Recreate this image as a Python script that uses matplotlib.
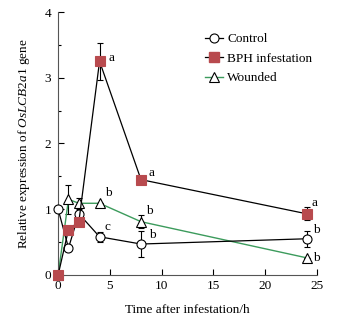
import numpy as np
import matplotlib
matplotlib.use('Agg')
import matplotlib.pyplot as plt
from matplotlib.ticker import MultipleLocator
from matplotlib.lines import Line2D

plt.rcParams['font.family'] = ['Liberation Serif', 'DejaVu Serif']
plt.rcParams['mathtext.fontset'] = 'custom'
plt.rcParams['mathtext.it'] = 'Liberation Serif:italic'
plt.rcParams['mathtext.rm'] = 'Liberation Serif'

# Data
hours = [0, 1, 2, 4, 8, 24]
control = [1.0, 0.41, 0.93, 0.58, 0.47, 0.55]
control_err = [0.0, 0.05, 0.05, 0.08, 0.2, 0.12]
bph = [0.0, 0.69, 0.81, 3.25, 1.45, 0.93]
bph_err = [0.0, 0.0, 0.0, 0.28, 0.05, 0.1]
wounded = [0.0, 1.15, 1.09, 1.09, 0.81, 0.26]
wounded_err = [0.0, 0.22, 0.08, 0.0, 0.1, 0.0]

# significance letters (x, y, text)
letters = [(4, 3.25, 'a'), (8, 1.45, 'a'), (24, 0.93, 'a'),
           (4, 1.09, 'b'), (8, 0.81, 'b'), (4, 0.58, 'c'),
           (8, 0.47, 'b'), (24, 0.55, 'b'), (24, 0.26, 'b')]
letter_offsets = [(0.85, 0.05), (0.75, 0.1), (0.5, 0.17),
                  (0.5, 0.15), (0.5, 0.17), (0.5, 0.15),
                  (0.75, 0.14), (0.6, 0.14), (0.6, 0.0)]

red = '#b84a4e'
green = '#3c9b5c'

fig = plt.figure(figsize=(3.42, 3.16), dpi=100)
ax = fig.add_axes([0.17, 0.13, 0.757, 0.832])

ax.errorbar(hours, wounded, yerr=wounded_err, color=green, lw=1,
            marker='^', ms=6.5, mfc='white', mec='black', mew=0.8,
            ecolor='black', elinewidth=0.8, capsize=2, zorder=2, clip_on=False)
ax.errorbar(hours, control, yerr=control_err, color='black', lw=0.9,
            marker='o', ms=6.5, mfc='white', mec='black', mew=0.8,
            ecolor='black', elinewidth=0.8, capsize=2, zorder=3, clip_on=False)
ax.errorbar(hours, bph, yerr=bph_err, color='black', lw=0.9,
            marker='s', ms=6.5, mfc=red, mec=red, mew=0.8,
            ecolor='black', elinewidth=0.8, capsize=2, zorder=4, clip_on=False)

for (x, y, t), (dx, dy) in zip(letters, letter_offsets):
    ax.text(x + dx, y + dy, t, fontsize=9.5, va='center', ha='left')

ax.set_xlim(0, 25)
ax.set_ylim(0, 4)
ax.xaxis.set_major_locator(MultipleLocator(5))
ax.yaxis.set_major_locator(MultipleLocator(1))
ax.yaxis.set_minor_locator(MultipleLocator(0.5))
ax.tick_params(direction='in', labelsize=9.5, length=4, width=0.8)
ax.tick_params(axis='y', pad=5)
ax.tick_params(which='minor', direction='in', length=2, width=0.8)
for s in ['top', 'right']:
    ax.spines[s].set_visible(False)
for s in ['left', 'bottom']:
    ax.spines[s].set_color('#555555')
    ax.spines[s].set_linewidth(0.8)

ax.set_xlabel('Time after infestation/h', fontsize=9.5, labelpad=9)
ax.set_ylabel(r'Relative expression of $\it{OsLCB2a1}$ gene', fontsize=9.5, labelpad=9)

handles = [
    Line2D([], [], color='black', lw=0.9, marker='o', ms=6.5, mfc='white', mec='black', mew=0.8),
    Line2D([], [], color='black', lw=0.9, marker='s', ms=6.5, mfc=red, mec=red),
    Line2D([], [], color=green, lw=1, marker='^', ms=6.5, mfc='white', mec='black', mew=0.8),
]
labels = ['Control', 'BPH infestation', 'Wounded']
ax.legend(handles, labels, loc='upper left', bbox_to_anchor=(0.52, 0.965), frameon=False,
          fontsize=9.5, handlelength=1.4, handletextpad=0.3, labelspacing=0.55)

fig.savefig('out.png', dpi=100)
